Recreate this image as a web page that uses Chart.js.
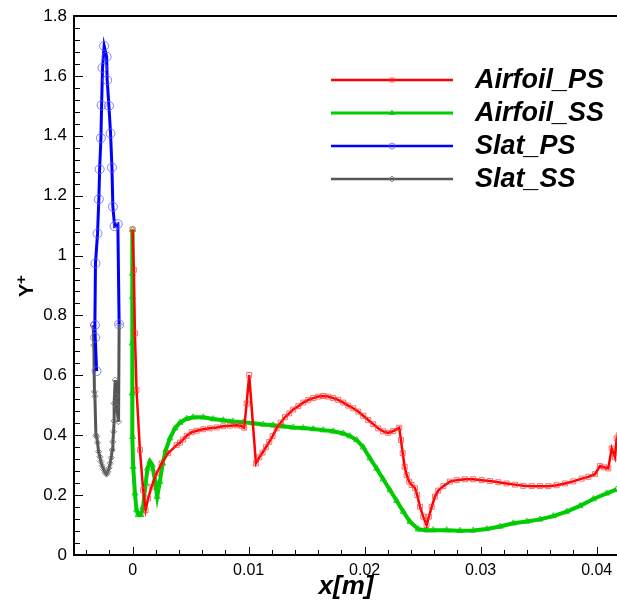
<!DOCTYPE html>
<html>
<head>
<meta charset="utf-8">
<script src="https://cdn.jsdelivr.net/npm/chart.js@4.4.0/dist/chart.umd.min.js"></script>
<style>
  html, body { margin: 0; padding: 0; background: #fff; overflow: hidden; }
  canvas { display: block; }
</style>
</head>
<body>
<canvas id="grafico" width="617" height="601"></canvas>
<script>
// valores de y+ ao longo da corda (x em metros)
const airfoilPsX = [0.00000, 0.00011, 0.00020, 0.00034, 0.00063, 0.00091, 0.00112, 0.00134, 0.00164, 0.00207,
  0.00250, 0.00307, 0.00379, 0.00408, 0.00436, 0.00466, 0.00509, 0.00552, 0.00609, 0.00666,
  0.00724, 0.00781, 0.00839, 0.00897, 0.00940, 0.00962, 0.00983, 0.01005, 0.01063, 0.01092,
  0.01121, 0.01149, 0.01178, 0.01207, 0.01241, 0.01276, 0.01313, 0.01350, 0.01384, 0.01428,
  0.01471, 0.01514, 0.01557, 0.01600, 0.01643, 0.01686, 0.01729, 0.01772, 0.01816, 0.01859,
  0.01902, 0.01945, 0.01988, 0.02031, 0.02074, 0.02117, 0.02160, 0.02203, 0.02247, 0.02298,
  0.02313, 0.02328, 0.02345, 0.02362, 0.02384, 0.02405, 0.02434, 0.02453, 0.02477, 0.02505,
  0.02534, 0.02554, 0.02578, 0.02606, 0.02634, 0.02678, 0.02735, 0.02793, 0.02865, 0.02936,
  0.03009, 0.03080, 0.03152, 0.03224, 0.03296, 0.03367, 0.03440, 0.03511, 0.03583, 0.03655,
  0.03727, 0.03798, 0.03871, 0.03928, 0.03985, 0.04028, 0.04063, 0.04100, 0.04129, 0.04158,
  0.04172, 0.04190];
const airfoilPsY = [1.087, 0.952, 0.740, 0.551, 0.351, 0.217, 0.150, 0.189, 0.228, 0.273,
  0.306, 0.340, 0.367, 0.375, 0.386, 0.398, 0.410, 0.415, 0.420, 0.423,
  0.426, 0.430, 0.432, 0.433, 0.431, 0.425, 0.506, 0.601, 0.306, 0.326,
  0.342, 0.360, 0.378, 0.397, 0.423, 0.442, 0.460, 0.473, 0.486, 0.497,
  0.509, 0.518, 0.524, 0.529, 0.531, 0.529, 0.524, 0.518, 0.509, 0.499,
  0.490, 0.479, 0.465, 0.451, 0.437, 0.423, 0.413, 0.408, 0.414, 0.425,
  0.384, 0.340, 0.295, 0.267, 0.245, 0.234, 0.223, 0.200, 0.161, 0.128,
  0.100, 0.128, 0.161, 0.195, 0.215, 0.230, 0.245, 0.250, 0.253, 0.253,
  0.250, 0.247, 0.243, 0.239, 0.235, 0.231, 0.230, 0.230, 0.230, 0.233,
  0.239, 0.246, 0.255, 0.261, 0.270, 0.297, 0.293, 0.289, 0.356, 0.326,
  0.390, 0.400];

const airfoilSsX = [0.00000, -0.00002, -0.00002, -0.00004, -0.00004, 0.00000, 0.00005, 0.00020, 0.00034, 0.00048,
  0.00072, 0.00091, 0.00112, 0.00129, 0.00149, 0.00169, 0.00192, 0.00212, 0.00235, 0.00259,
  0.00287, 0.00322, 0.00365, 0.00408, 0.00466, 0.00522, 0.00609, 0.00695, 0.00781, 0.00867,
  0.00953, 0.01040, 0.01126, 0.01212, 0.01298, 0.01384, 0.01471, 0.01557, 0.01643, 0.01729,
  0.01816, 0.01873, 0.01931, 0.01988, 0.02046, 0.02103, 0.02160, 0.02218, 0.02276, 0.02333,
  0.02391, 0.02462, 0.02534, 0.02591, 0.02707, 0.02822, 0.02936, 0.03052, 0.03166, 0.03281,
  0.03397, 0.03511, 0.03626, 0.03741, 0.03856, 0.03971, 0.04086, 0.04172];
const airfoilSsY = [1.087, 0.940, 0.862, 0.707, 0.540, 0.395, 0.295, 0.206, 0.150, 0.134,
  0.134, 0.161, 0.239, 0.289, 0.312, 0.300, 0.250, 0.195, 0.245, 0.306,
  0.351, 0.390, 0.423, 0.442, 0.455, 0.460, 0.460, 0.454, 0.450, 0.446,
  0.443, 0.440, 0.436, 0.433, 0.430, 0.426, 0.424, 0.421, 0.417, 0.413,
  0.406, 0.397, 0.384, 0.360, 0.323, 0.289, 0.253, 0.217, 0.181, 0.145,
  0.111, 0.086, 0.083, 0.083, 0.083, 0.081, 0.082, 0.087, 0.095, 0.106,
  0.112, 0.119, 0.130, 0.145, 0.164, 0.187, 0.206, 0.219];

const slatPsX = [-0.00310, -0.00322, -0.00325, -0.00320, -0.00302, -0.00291, -0.00284, -0.00273, -0.00267, -0.00259,
  -0.00245, -0.00224, -0.00219, -0.00204, -0.00190, -0.00178, -0.00170, -0.00155, -0.00127, -0.00116];
const slatPsY = [0.614, 0.726, 0.768, 0.974, 1.074, 1.188, 1.288, 1.392, 1.502, 1.627,
  1.700, 1.664, 1.586, 1.500, 1.408, 1.294, 1.163, 1.098, 1.105, 0.770];

const slatSsX = [-0.00340, -0.00334, -0.00329, -0.00325, -0.00316, -0.00310, -0.00302, -0.00293, -0.00282, -0.00273,
  -0.00262, -0.00250, -0.00236, -0.00224, -0.00213, -0.00202, -0.00193, -0.00184, -0.00176, -0.00170,
  -0.00164, -0.00159, -0.00159, -0.00150, -0.00144, -0.00138, -0.00121, -0.00116];
const slatSsY = [0.768, 0.700, 0.545, 0.530, 0.400, 0.395, 0.375, 0.345, 0.328, 0.312,
  0.298, 0.286, 0.275, 0.270, 0.278, 0.291, 0.306, 0.325, 0.351, 0.378,
  0.412, 0.448, 0.506, 0.584, 0.531, 0.495, 0.445, 0.770];

const xTicks = [0, 0.01, 0.02, 0.03, 0.04];
const yTicks = [0, 0.2, 0.4, 0.6, 0.8, 1, 1.2, 1.4, 1.6, 1.8];

function pontos(xs, ys) {
  return xs.map(function (x, i) { return { x: x, y: ys[i] }; });
}

const fonte = '"Liberation Sans", Arial, sans-serif';

const series = [
  { label: 'Airfoil_PS', xs: airfoilPsX, ys: airfoilPsY, cor: '#ff0000', marca: 'rgba(255,50,50,0.7)', estilo: 'rect', raio: 3.5, largura: 2.5, legLarg: 2.5 },
  { label: 'Airfoil_SS', xs: airfoilSsX, ys: airfoilSsY, cor: '#00cc00', marca: 'rgba(0,200,0,0.8)', estilo: 'triangle', raio: 3.5, largura: 4, legLarg: 3 },
  { label: 'Slat_PS', xs: slatPsX, ys: slatPsY, cor: '#0000ff', marca: 'rgba(90,90,255,0.75)', estilo: 'circle', raio: 4.5, largura: 3, legLarg: 2.5 },
  { label: 'Slat_SS', xs: slatSsX, ys: slatSsY, cor: '#555555', marca: 'rgba(110,110,110,0.85)', estilo: 'rectRot', raio: 3, largura: 3, legLarg: 2.5 }
];

// moldura, ticks para dentro, titulos dos eixos e legenda
const moldura = {
  id: 'moldura',
  afterDraw: function (chart) {
    const ctx = chart.ctx;
    const a = chart.chartArea;
    const sx = chart.scales.x;
    const sy = chart.scales.y;
    ctx.save();

    // ticks
    ctx.strokeStyle = '#000';
    ctx.lineWidth = 1;
    ctx.beginPath();
    for (let v = 0; v <= 1.8001; v += 0.04) {
      const py = Math.round(sy.getPixelForValue(v)) + 0.5;
      const major = Math.abs(v / 0.2 - Math.round(v / 0.2)) < 0.01;
      ctx.moveTo(a.left, py);
      ctx.lineTo(a.left + (major ? 9 : 6), py);
    }
    for (let v = -0.004; v <= 0.0415; v += 0.002) {
      const px = Math.round(sx.getPixelForValue(v)) + 0.5;
      const major = Math.abs(v / 0.01 - Math.round(v / 0.01)) < 0.01;
      ctx.moveTo(px, a.bottom);
      ctx.lineTo(px, a.bottom - (major ? 8 : 5));
    }
    ctx.stroke();

    // eixos
    ctx.lineWidth = 2;
    ctx.beginPath();
    ctx.moveTo(a.right, a.top);
    ctx.lineTo(a.left, a.top);
    ctx.lineTo(a.left, a.bottom);
    ctx.lineTo(a.right, a.bottom);
    ctx.stroke();

    // titulo eixo x
    ctx.fillStyle = '#000';
    ctx.font = 'italic bold 26px ' + fonte;
    ctx.textAlign = 'center';
    ctx.textBaseline = 'alphabetic';
    ctx.fillText('x[m]', 346, 594);

    // titulo eixo y
    ctx.save();
    ctx.translate(33, 289);
    ctx.rotate(-Math.PI / 2);
    ctx.textAlign = 'left';
    ctx.font = 'bold 20px ' + fonte;
    ctx.fillText('Y', -8, 0);
    ctx.font = 'bold 15px ' + fonte;
    ctx.fillText('+', 5, -7);
    ctx.restore();

    // legenda
    series.forEach(function (s, i) {
      const ly = 80 + 33 * i;
      ctx.strokeStyle = s.cor;
      ctx.lineWidth = s.legLarg;
      ctx.beginPath();
      ctx.moveTo(331, ly);
      ctx.lineTo(453, ly);
      ctx.stroke();
      ctx.strokeStyle = s.marca;
      ctx.fillStyle = 'rgba(0,0,0,0)';
      ctx.lineWidth = 1;
      Chart.helpers.drawPoint(ctx, { pointStyle: s.estilo, radius: 3, borderWidth: 1, rotation: 0 }, 392, ly);
      ctx.fillStyle = '#000';
      ctx.font = 'italic bold 27px ' + fonte;
      ctx.textAlign = 'left';
      ctx.textBaseline = 'middle';
      ctx.fillText(s.label, 475, ly + 1);
    });

    ctx.restore();
  }
};

new Chart(document.getElementById('grafico'), {
  type: 'scatter',
  data: {
    datasets: series.map(function (s) {
      return {
        label: s.label,
        data: pontos(s.xs, s.ys),
        showLine: true,
        borderColor: s.cor,
        borderWidth: s.largura,
        pointStyle: s.estilo,
        pointRadius: s.raio,
        pointBorderColor: s.marca,
        pointBackgroundColor: 'rgba(0,0,0,0)',
        pointBorderWidth: 1,
        tension: 0,
        clip: false
      };
    })
  },
  plugins: [moldura],
  options: {
    responsive: false,
    animation: false,
    layout: { autoPadding: false, padding: { top: 16, right: 0, bottom: 0, left: 0 } },
    plugins: {
      legend: { display: false },
      tooltip: { enabled: false }
    },
    scales: {
      x: {
        type: 'linear',
        min: -0.00505,
        max: 0.04175,
        afterFit: function (scale) {
          scale.height = 46;
          scale.paddingLeft = 0;
          scale.paddingRight = 0;
        },
        afterBuildTicks: function (scale) {
          scale.ticks = xTicks.map(function (v) { return { value: v }; });
        },
        grid: { display: false, drawTicks: false },
        border: { display: false },
        ticks: {
          padding: 6,
          color: '#000',
          font: { family: fonte, size: 16 },
          maxRotation: 0,
          callback: function (v) { return String(Number(v.toFixed(2))); }
        }
      },
      y: {
        type: 'linear',
        min: 0,
        max: 1.8,
        afterFit: function (scale) {
          scale.width = 74;
          scale.paddingTop = 0;
          scale.paddingBottom = 0;
        },
        afterBuildTicks: function (scale) {
          scale.ticks = yTicks.map(function (v) { return { value: v }; });
        },
        grid: { display: false, drawTicks: false },
        border: { display: false },
        ticks: {
          padding: 7,
          color: '#000',
          font: { family: fonte, size: 17 },
          callback: function (v) { return String(Number(v.toFixed(1))); }
        }
      }
    }
  }
});
</script>
</body>
</html>
